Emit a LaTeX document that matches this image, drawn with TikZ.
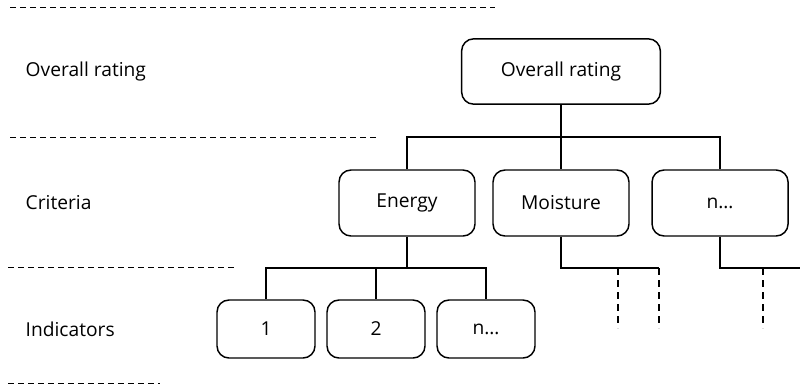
\documentclass[tikz,border=0pt]{standalone}
\usepackage{fontspec}
\setmainfont{Open Sans}
\usetikzlibrary{positioning}

\begin{document}
\begin{tikzpicture}[
  x=0.75pt, y=-0.75pt,
  every node/.style={font=\fontsize{14.4}{17}\selectfont},
  box/.style={draw, rounded corners=9pt, line width=1.1pt, inner sep=0pt},
  ovbox/.style={box, minimum width=149pt, minimum height=49pt},
  critbox/.style={box, minimum width=102pt, minimum height=49.5pt},
  indbox/.style={box, minimum width=73.5pt, minimum height=43.5pt},
  lvl/.style={anchor=west},
  sep/.style={dash pattern=on 4.5pt off 3pt, line width=0.6pt},
  link/.style={line width=0.9pt},
  more/.style={link, dash pattern=on 5pt off 4pt}
]
\useasboundingbox (0,0) rectangle (800,387);

%% Level labels
\node[lvl] (lov)  at (21,72)  {Overall rating};
\node[lvl] (lcr)  at (21,203) {Criteria};
\node[lvl] (lind) at (21,329) {Indicators};

%% Separators
\draw[sep] (10,7)   -- (495,7);
\draw[sep] (10,137) -- (377,137);
\draw[sep] (8,267)  -- (235,267);
\draw[sep] (8,383)  -- (160,383);

%% Nodes
\node[ovbox]   at (561,71.5)              (ov)  {Overall rating};
\node[critbox] at (407,203)               (en)  {Energy};
\node[critbox, right=12.4pt of en]        (mo)  {Moisture};
\node[critbox, right=16.2pt of mo]        (nc)  {n\dots};
\node[indbox]  at (266,329)               (i1)  {1};
\node[indbox,  right=7.9pt of i1]         (i2)  {2};
\node[indbox,  right=7.9pt of i2]         (in)  {n\dots};

%% Junctions
\coordinate (jov) at (ov.south |- 0,137);
\coordinate (jen) at (en.south |- 0,268);
\coordinate (jmo) at (mo.south |- 0,268);
\coordinate (jnc) at (nc.south |- 0,268);
\coordinate (mo1) at (618,268);
\coordinate (mo2) at (659,268);
\coordinate (nc1) at (763,268);
\coordinate (ncend) at (800,268);

%% Connectors
\draw[link, line width=1.5pt] (ov) -- (jov);
\draw[link] (en.north) |- (jov) -| (nc.north);
\draw[link] (jov) -- (mo.north);
\draw[link] (en) -- (jen);
\draw[link] (i1.north) |- (jen) -| (in.north);
\draw[link] (i2.north |- jen) -- (i2.north);
\draw[link] (mo) -- (jmo) -- (mo2);
\draw[link] (nc) -- (jnc) -- (ncend);

%% Open branches
\draw[more] (mo1) -- ++(0,60);
\draw[more] (mo2) -- ++(0,60);
\draw[more] (nc1) -- ++(0,60);
\end{tikzpicture}
\end{document}
